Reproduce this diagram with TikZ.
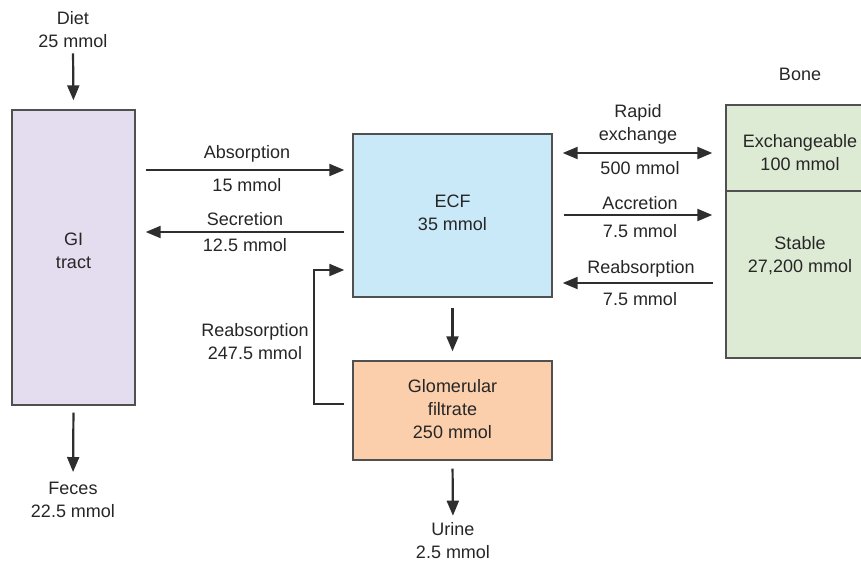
\documentclass[tikz,border=0pt]{standalone}
\usepackage{fontspec}
\setmainfont{Liberation Sans}
\usetikzlibrary{arrows.meta}
\definecolor{txt}{HTML}{262626}
\definecolor{ln}{HTML}{2E2E2E}
\definecolor{bd}{HTML}{505050}
\definecolor{gifill}{HTML}{E4DDEF}
\definecolor{ecffill}{HTML}{C9E9F9}
\definecolor{glomfill}{HTML}{FBCFAC}
\definecolor{bonefill}{HTML}{DEEBD4}
\begin{document}
\begin{tikzpicture}[x=1pt,y=-1pt,
  lbl/.style={inner sep=0pt,align=center,text=txt,font=\fontsize{18pt}{23pt}\selectfont},
  boxx/.style={draw=bd,line width=1.4pt,inner sep=0pt,align=center,text=txt,font=\fontsize{18pt}{23pt}\selectfont},
  arr/.style={draw=ln,line width=2.2pt,-{Triangle[length=15pt,width=12pt]}},
  darr/.style={draw=ln,line width=2.2pt,{Triangle[length=15pt,width=12pt]}-{Triangle[length=15pt,width=12pt]}}]
\useasboundingbox (0,0) rectangle (861,565);
% boxes
\node[boxx,fill=gifill,minimum width=123pt,minimum height=295pt] (gi) at (73.5,257.5) {};
\node[lbl] (gitxt) at (73.5,251) {GI\\tract};
\node[boxx,fill=ecffill,minimum width=199pt,minimum height=163pt] (ecf) at (452.5,215.5) {};
\node[lbl] (ecftxt) at (452.5,213) {ECF\\35 mmol};
\node[boxx,fill=glomfill,minimum width=199pt,minimum height=99pt] (glom) at (452.5,410.5) {};
\node[lbl] (glomtxt) at (452.5,409) {Glomerular\\filtrate\\250 mmol};
\node[boxx,fill=bonefill,minimum width=149pt,minimum height=253pt] (bone) at (800.5,231.5) {};
\draw[draw=bd,line width=1.4pt] (bone.west |- 0,191) coordinate (bdl) -- (bone.east |- 0,191) coordinate (bdr);
\node[lbl] (exch) at (800,153) {Exchangeable\\100 mmol};
\node[lbl] (stable) at (800,256) {Stable\\27,200 mmol};
\node[lbl] (bonelbl) at (800,74) {Bone};
% free labels
\node[lbl] (diet) at (73,30) {Diet\\25 mmol};
\node[lbl] (feces) at (73,500) {Feces\\22.5 mmol};
\node[lbl] (urine) at (453,541) {Urine\\2.5 mmol};
% connectors
\draw[arr,shorten <=5pt,shorten >=9pt] (diet.south) -- (gi.north);
\draw[arr,shorten <=7pt,shorten >=10pt] (gi.south) -- (feces.north);
\draw[arr,shorten <=10pt,shorten >=8pt] (gi.east |- 0,170) -- (ecf.west |- 0,170);
\node[lbl] (absl) at (247,154) {Absorption};
\node[lbl] (absv) at (247,185) {15 mmol};
\draw[arr,shorten <=8pt,shorten >=10pt] (ecf.west |- 0,232) -- (gi.east |- 0,232);
\node[lbl] (secl) at (245,219) {Secretion};
\node[lbl] (secv) at (245,245) {12.5 mmol};
\draw[arr,shorten <=8pt,shorten >=8pt] (glom.west |- 0,404) -- ++(-38,0) |- (ecf.west |- 0,270);
\node[lbl] (reabk) at (255,342) {Reabsorption\\247.5 mmol};
\draw[arr,shorten <=10pt,shorten >=9pt] (ecf.south) -- (glom.north);
\draw[arr,shorten <=8pt,shorten >=7pt] (glom.south) -- (urine.north);
\draw[darr,shorten <=10pt,shorten >=13pt] (ecf.east |- 0,153) -- (bone.west |- 0,153);
\node[lbl] (rapl) at (638,124) {Rapid\\exchange};
\node[lbl] (rapv) at (640,168) {500 mmol};
\draw[arr,shorten <=11pt,shorten >=13pt] (ecf.east |- 0,215) -- (bone.west |- 0,215);
\node[lbl] (accl) at (640,203) {Accretion};
\node[lbl] (accv) at (640,231) {7.5 mmol};
\draw[arr,shorten <=12pt,shorten >=10pt] (bone.west |- 0,283) -- (ecf.east |- 0,283);
\node[lbl] (rebl) at (641,269) {Reabsorption};
\node[lbl] (rebv) at (640,299) {7.5 mmol};
\end{tikzpicture}
\end{document}
